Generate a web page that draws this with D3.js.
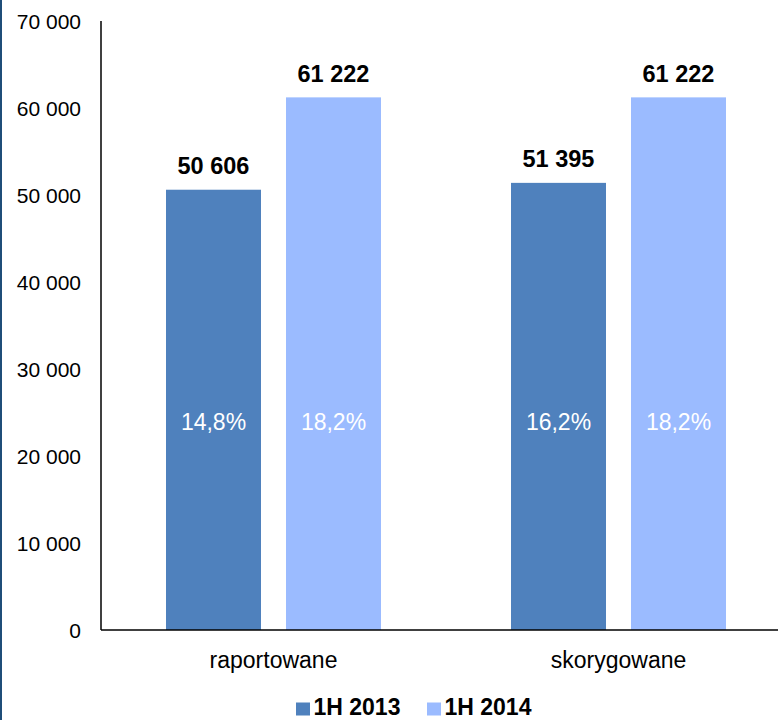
<!DOCTYPE html>
<html>
<head>
<meta charset="utf-8">
<script src="https://cdn.jsdelivr.net/npm/d3@7"></script>
<style>
html,body{margin:0;padding:0;background:#fff;}
svg{display:block;}
</style>
</head>
<body>
<div id="chart"></div>
<script>
const categories = ["raportowane", "skorygowane"];
const seriesNames = ["1H 2013", "1H 2014"];
const values2013 = [50606, 51395];
const values2014 = [61222, 61222];
const pct2013 = ["14,8%", "16,2%"];
const pct2014 = ["18,2%", "18,2%"];
const yTicks = [0, 10000, 20000, 30000, 40000, 50000, 60000, 70000];
const colors = ["#4F81BD", "#9BBBFF"];

const W = 778, H = 720;
const svg = d3.select("#chart").append("svg").attr("width", W).attr("height", H);

// left frame line
svg.append("rect").attr("x", 0).attr("y", 0).attr("width", 2).attr("height", H).attr("fill", "#1F4E79");

const x0 = d3.scaleBand().domain(categories).range([101, 791]).paddingInner(0).paddingOuter(0);
const groupW = 215;
const x1 = d3.scaleBand().domain(seriesNames).range([0, groupW]).paddingInner(25/120).paddingOuter(0);
const y = d3.scaleLinear().domain([0, 70000]).range([630, 21]);

const fmt = v => d3.format(",")(v).replace(/,/g, " ");

// y tick labels
svg.append("g").selectAll("text").data(yTicks).join("text")
  .attr("x", 81).attr("y", d => y(d) + 8)
  .attr("text-anchor", "end")
  .attr("font-family", "Liberation Sans, Arial, sans-serif")
  .attr("font-size", 21).attr("fill", "#000")
  .text(d => fmt(d));

const data = categories.map((c, i) => ({
  cat: c,
  bars: [
    {s: seriesNames[0], v: values2013[i], p: pct2013[i], c: colors[0]},
    {s: seriesNames[1], v: values2014[i], p: pct2014[i], c: colors[1]}
  ]
}));

const groups = svg.append("g").selectAll("g").data(data).join("g")
  .attr("transform", d => `translate(${x0(d.cat) + (x0.bandwidth() - groupW) / 2},0)`);

groups.selectAll("rect").data(d => d.bars).join("rect")
  .attr("x", d => x1(d.s)).attr("width", x1.bandwidth())
  .attr("y", d => y(d.v)).attr("height", d => y(0) - y(d.v))
  .attr("fill", d => d.c);

groups.selectAll("text.val").data(d => d.bars).join("text").attr("class", "val")
  .attr("x", d => x1(d.s) + x1.bandwidth() / 2)
  .attr("y", d => y(d.v) - 15.5)
  .attr("text-anchor", "middle")
  .attr("font-family", "Liberation Sans, Arial, sans-serif")
  .attr("font-weight", "bold").attr("font-size", 23.5).attr("fill", "#000")
  .text(d => fmt(d.v));

groups.selectAll("text.pct").data(d => d.bars).join("text").attr("class", "pct")
  .attr("x", d => x1(d.s) + x1.bandwidth() / 2)
  .attr("y", 429.5)
  .attr("text-anchor", "middle")
  .attr("font-family", "Liberation Sans, Arial, sans-serif")
  .attr("font-size", 23).attr("fill", "#fff")
  .text(d => d.p);

// axes lines
svg.append("line").attr("x1", 101).attr("x2", 101).attr("y1", y(70000)).attr("y2", y(0))
  .attr("stroke", "#000").attr("stroke-width", 1.5);
svg.append("line").attr("x1", 101).attr("x2", 791).attr("y1", y(0)).attr("y2", y(0))
  .attr("stroke", "#000").attr("stroke-width", 1.5);

// category labels
svg.append("g").selectAll("text").data(categories).join("text")
  .attr("x", d => x0(d) + x0.bandwidth() / 2).attr("y", 668)
  .attr("text-anchor", "middle")
  .attr("font-family", "Liberation Sans, Arial, sans-serif")
  .attr("font-size", 23).attr("fill", "#000")
  .text(d => d);

// legend
const legendX = [296, 427];
const lg = svg.append("g").selectAll("g").data(seriesNames).join("g")
  .attr("transform", (d, i) => `translate(${legendX[i]},0)`);
lg.append("rect").attr("x", 0).attr("y", 702.5).attr("width", 14).attr("height", 13)
  .attr("fill", (d, i) => colors[i]);
lg.append("text").attr("x", 17.5).attr("y", 714.5)
  .attr("font-family", "Liberation Sans, Arial, sans-serif")
  .attr("font-weight", "bold").attr("font-size", 23).attr("fill", "#000")
  .text(d => d);
</script>
</body>
</html>
